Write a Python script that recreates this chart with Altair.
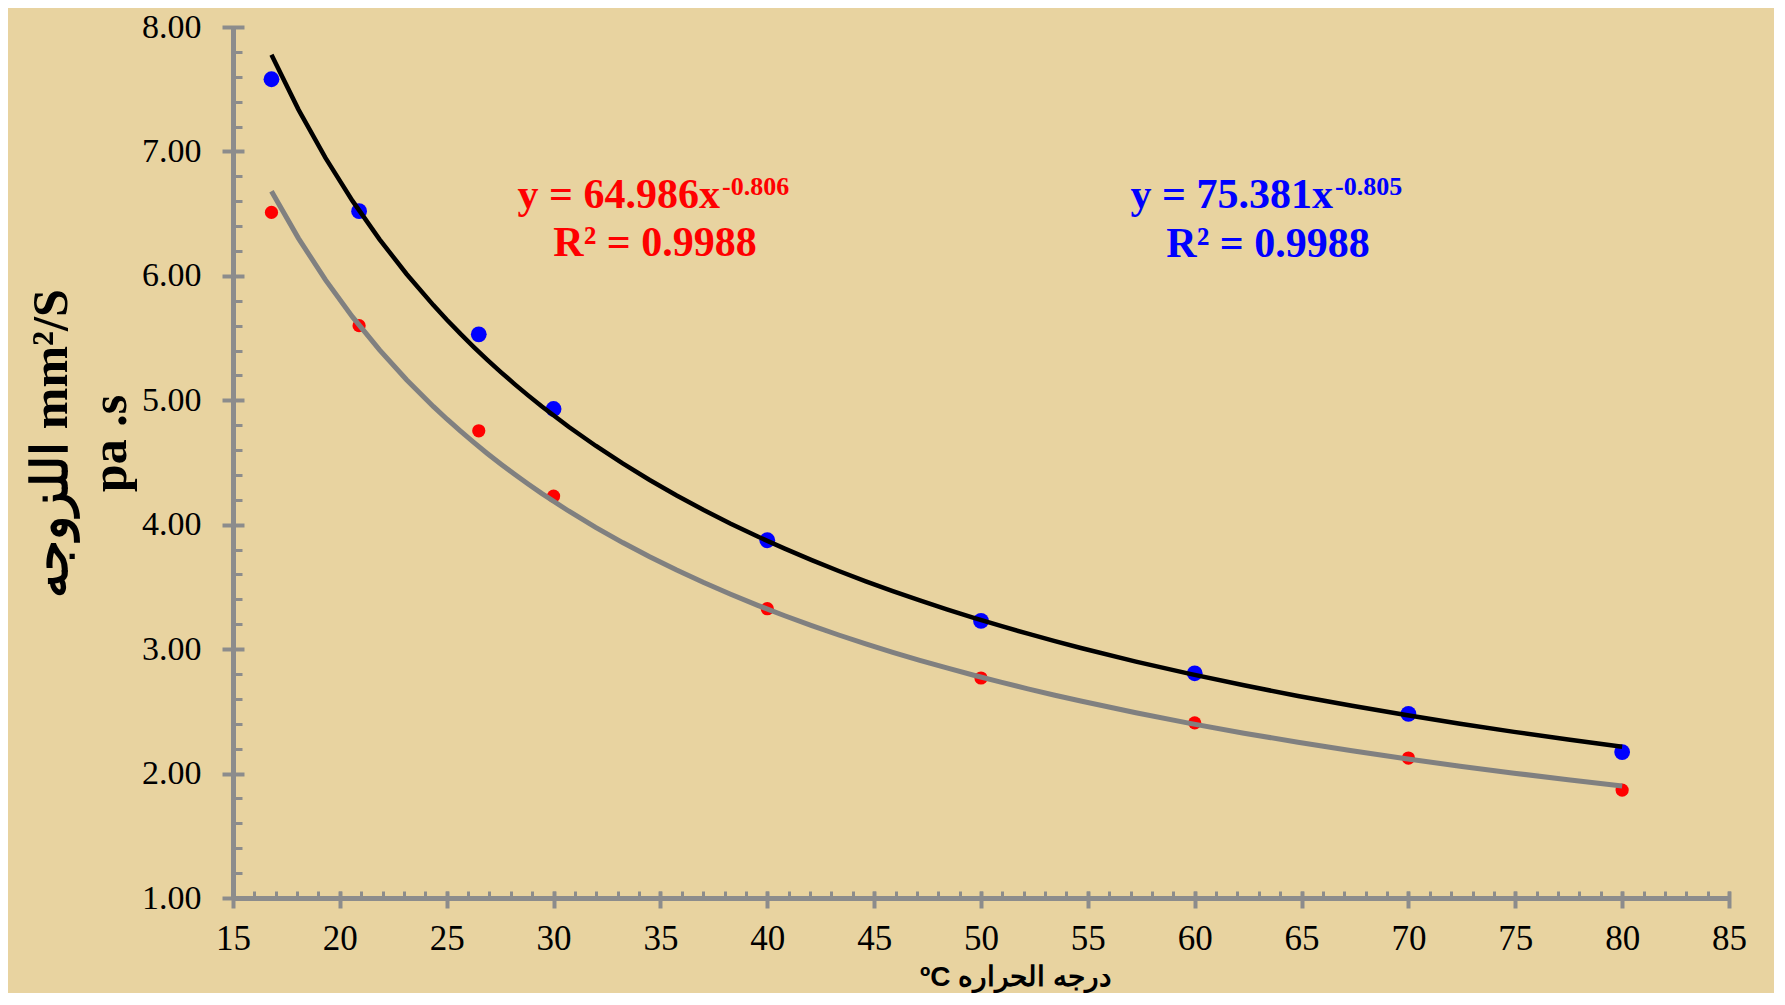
import altair as alt
import pandas as pd

# ---------------- data ----------------
temps = [16.8, 20.9, 26.5, 30, 40, 50, 60, 70, 80]
blue_vals = [7.58, 6.52, 5.53, 4.93, 3.875, 3.227, 2.806, 2.48, 2.173]
red_vals = [6.51, 5.60, 4.755, 4.23, 3.325, 2.768, 2.408, 2.125, 1.867]

x_major_ticks = [15, 20, 25, 30, 35, 40, 45, 50, 55, 60, 65, 70, 75, 80, 85]
x_minor_ticks = list(range(15, 86))
y_major_ticks = [1, 2, 3, 4, 5, 6, 7, 8]
y_minor_ticks = [round(1 + 0.2 * i, 1) for i in range(36)]

x_title = "ºC درجه الحراره"
y_title = ["اللزوجه mm²/S", "pa .s"]
red_eq = ["y = 64.986x", "-0.806", "R² = 0.9988"]
blue_eq = ["y = 75.381x", "-0.805", "R² = 0.9988"]

df = pd.DataFrame({
    "temp": temps + temps,
    "visc": blue_vals + red_vals,
    "series": ["blue"] * len(temps) + ["red"] * len(temps),
})

AXIS_GRAY = "#8C8C8C"
SERIF = "Liberation Serif"

x_scale = alt.Scale(domain=[15, 85], nice=False, zero=False)
y_scale = alt.Scale(domain=[1, 8], nice=False, zero=False)

major_x = alt.Axis(orient="bottom", values=x_major_ticks, offset=-7, tickSize=17,
                   tickWidth=4, tickColor=AXIS_GRAY, domain=False, grid=False,
                   labelFont=SERIF, labelFontSize=35, labelColor="black",
                   labelPadding=13, labelFlush=False, labelOverlap=False,
                   format="d", title=None)
major_y = alt.Axis(orient="left", values=y_major_ticks, offset=-11, tickSize=22,
                   tickWidth=4, tickColor=AXIS_GRAY, domain=False, grid=False,
                   labelFont=SERIF, labelFontSize=34, labelColor="black",
                   labelPadding=21, labelFlush=False, labelOverlap=False,
                   format=".2f", title=None)
minor_x = alt.Axis(orient="bottom", values=x_minor_ticks, offset=-7, tickSize=7,
                   tickWidth=3, tickColor=AXIS_GRAY, domain=False, grid=False,
                   labels=False, title=None)
minor_y = alt.Axis(orient="left", values=y_minor_ticks, offset=-9, tickSize=9,
                   tickWidth=3, tickColor=AXIS_GRAY, domain=False, grid=False,
                   labels=False, title=None)
domain_x = alt.Axis(orient="bottom", domain=True, domainColor=AXIS_GRAY, domainWidth=5,
                    ticks=False, labels=False, grid=False, title=x_title,
                    titleFont="Liberation Sans", titleFontSize=28, titleFontWeight="bold",
                    titleColor="black", titleX=782, titleY=87, titleAlign="center",
                    titleBaseline="alphabetic", titleAngle=0)
domain_y = alt.Axis(orient="left", domain=True, domainColor=AXIS_GRAY, domainWidth=5,
                    ticks=False, labels=False, grid=False, title=y_title,
                    titleFont=SERIF, titleFontSize=50, titleFontWeight="bold",
                    titleColor="black", titleX=-167, titleY=416, titleAlign="center",
                    titleBaseline="alphabetic", titleAngle=270, titleLineHeight=59)

base = alt.Chart(df)

blue_pts = base.transform_filter(alt.datum.series == "blue").mark_circle(
    size=250, color="#0000FF", opacity=1
).encode(
    x=alt.X("temp:Q", scale=x_scale, axis=major_x),
    y=alt.Y("visc:Q", scale=y_scale, axis=major_y),
)
red_pts = base.transform_filter(alt.datum.series == "red").mark_circle(
    size=175, color="#FF0000", opacity=1
).encode(
    x=alt.X("temp:Q", scale=x_scale, axis=minor_x),
    y=alt.Y("visc:Q", scale=y_scale, axis=minor_y),
)
gray_line = base.transform_filter(alt.datum.series == "red").transform_regression(
    "temp", "visc", method="pow"
).mark_line(color="#808080", strokeWidth=5).encode(
    x=alt.X("temp:Q", scale=x_scale, axis=domain_x),
    y=alt.Y("visc:Q", scale=y_scale, axis=domain_y),
)
black_line = base.transform_filter(alt.datum.series == "blue").transform_regression(
    "temp", "visc", method="pow"
).mark_line(color="black", strokeWidth=4.5).encode(
    x=alt.X("temp:Q", scale=x_scale, axis=None),
    y=alt.Y("visc:Q", scale=y_scale, axis=None),
)


def label(txt, color, size, align, px, py):
    return alt.Chart(pd.DataFrame({"t": [txt]})).mark_text(
        font=SERIF, fontSize=size, fontWeight="bold", color=color,
        align=align, baseline="alphabetic"
    ).encode(x=alt.value(px), y=alt.value(py), text="t:N")


texts = [
    label(red_eq[0], "#FF0000", 42, "right", 487, 181),
    label(red_eq[1], "#FF0000", 26, "left", 489, 168),
    label(red_eq[2], "#FF0000", 42, "center", 422, 229),
    label(blue_eq[0], "#0000FF", 42, "right", 1100, 181),
    label(blue_eq[1], "#0000FF", 26, "left", 1102, 168),
    label(blue_eq[2], "#0000FF", 42, "center", 1035, 230),
]

chart = alt.layer(blue_pts, red_pts, gray_line, black_line, *texts).resolve_axis(
    x="independent", y="independent"
).properties(
    width=1496,
    height=871,
    autosize=alt.AutoSizeParams(type="none"),
    padding={"left": 225, "top": 19, "right": 45, "bottom": 95},
    background="#E8D3A0",
).configure_view(strokeOpacity=0)

chart.save("out.html", embed_options={"renderer": "svg", "actions": False})
